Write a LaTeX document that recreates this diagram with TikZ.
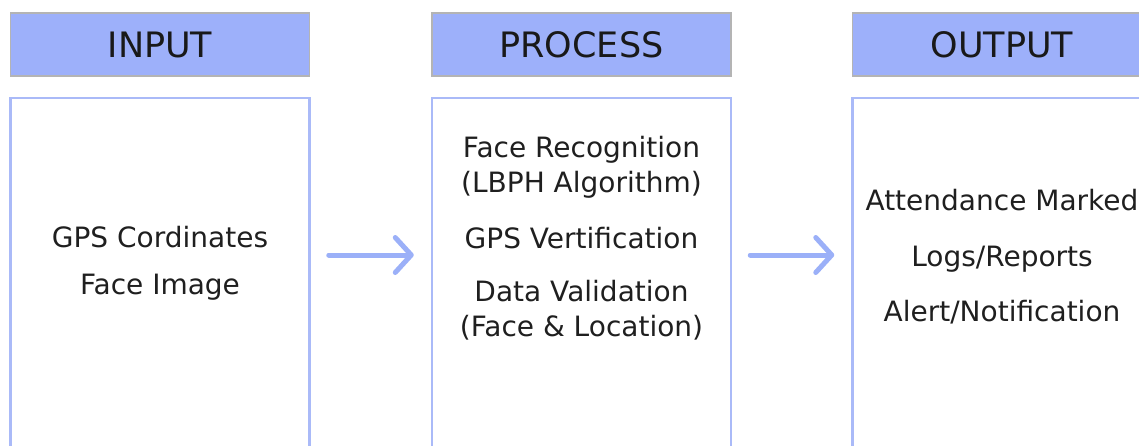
\documentclass[tikz,border=0pt]{standalone}
\usepackage{fontspec}
\setmainfont{DejaVu Sans}
\usetikzlibrary{positioning,arrows.meta}
\definecolor{headblue}{RGB}{157,176,250}
\definecolor{edgeblue}{RGB}{170,186,248}
\definecolor{arrowblue}{RGB}{155,176,248}
\definecolor{headgray}{RGB}{180,180,180}

\begin{document}
\begin{tikzpicture}[x=1pt,y=-1pt,
    headbox/.style={rectangle, fill=headblue, draw=headgray, line width=1.5pt, minimum width=299pt, minimum height=63pt, inner sep=0pt, text=black!90, font=\fontsize{35}{40}\selectfont},
    bodybox/.style={rectangle, draw=edgeblue, line width=2.5pt, minimum width=299pt, minimum height=364pt, inner sep=0pt},
    bodytext/.style={align=center, inner sep=0pt, text=black!88, font=\fontsize{28}{35}\selectfont},
    flow/.style={-{Straight Barb[length=16pt, width=35pt, round]}, draw=arrowblue, line width=5pt, line cap=round, shorten <=18pt, shorten >=17pt}]
    \useasboundingbox (0,0) rectangle (1139,445);
    \clip (0,0) rectangle (1139,445);
    %Headers
    \node[headbox]      (inhead)   at (160,44.5)            {INPUT};
    \node[headbox]      (prochead) [right=121pt of inhead]  {PROCESS};
    \node[headbox]      (outhead)  [right=120pt of prochead] {OUTPUT};
    %Boxes
    \node[bodybox]      (inbox)    [below=20pt of inhead]   {};
    \node[bodybox]      (procbox)  [below=20pt of prochead] {};
    \node[bodybox]      (outbox)   [below=20pt of outhead]  {};
    %Texts
    \node[bodytext]     (intext)   at ([yshift=16.5pt]inbox.center)
        {GPS Cordinates\\[12pt]Face Image};
    \node[bodytext]     (proctext) at ([yshift=41.5pt]procbox.center)
        {Face Recognition\\(LBPH Algorithm)\\[21pt]GPS Vertification\\[18pt]Data Validation\\(Face \& Location)};
    \node[bodytext]     (outtext)  at ([yshift=23pt]outbox.center)
        {Attendance Marked\\[21pt]Logs/Reports\\[20pt]Alert/Notification};
    %Arrows
    \draw[flow] ([yshift=25pt]inbox.east) -- ([yshift=25pt]procbox.west);
    \draw[flow] ([yshift=25pt]procbox.east) -- ([yshift=25pt]outbox.west);
\end{tikzpicture}
\end{document}
